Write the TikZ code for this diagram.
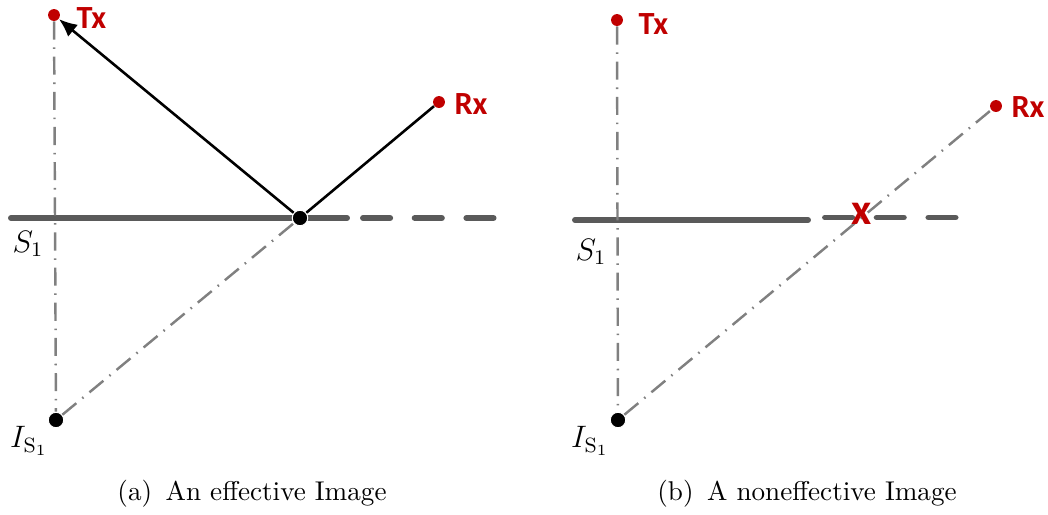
\documentclass[tikz,border=0pt]{standalone}
\usepackage{fontspec}
\newfontfamily\lblfont{Carlito}
\usetikzlibrary{arrows.meta}
\definecolor{myred}{HTML}{C00000}
\definecolor{surf}{HTML}{5A5A5A}
\begin{document}
\begin{tikzpicture}[x=0.0136cm,y=-0.0136cm,
  rdot/.style={circle,fill=myred,inner sep=0pt,minimum size=4.6pt},
  bdot/.style={circle,fill=black,draw=white,line width=0.4pt,inner sep=0pt,minimum size=6pt},
  lbl/.style={font=\lblfont\bfseries\fontsize{12.5}{12.5}\selectfont,text=myred,inner sep=0pt,anchor=west},
  mlbl/.style={inner sep=0pt,font=\fontsize{12}{14}\selectfont},
  surface/.style={draw=surf,line width=2.3pt,line cap=round},
  surfdash/.style={draw=surf,line width=2.3pt,line cap=round,dash pattern=on 10.5pt off 9.5pt},
  dashdot/.style={draw=gray,line width=0.95pt,dash pattern=on 7pt off 3pt on 0.6pt off 3pt},
  ray/.style={draw=black,line width=1pt},
  captext/.style={inner sep=0pt,font=\fontsize{10.5}{12}\selectfont}]
\useasboundingbox (0,0) rectangle (1048,514);
% ---------- (a) ----------
\node[rdot] (txa) at (54,15) {};
\node[rdot] (rxa) at (439,102) {};
\node[lbl] (txla) at (76,18) {Tx};
\node[lbl] (rxla) at (454,104) {Rx};
\coordinate (sa1) at (11,218);
\coordinate (sa2) at (347,218);
\coordinate (sa3) at (363,218);
\coordinate (sa4) at (498,218);
\draw[surface] (sa1) -- (sa2);
\draw[surfdash] (sa3) -- (sa4);
\node[bdot] (ima) at (56,420) {};
\draw[dashdot] (txa) -- (ima);
\node[bdot] (pa) at (300,218) {};
\draw[dashdot] (ima) -- (pa);
\draw[ray,-{Latex[length=7pt,width=6pt]}] (pa) -- (txa);
\draw[ray] (pa) -- (rxa);
\node[mlbl] (sla) at (28,244) {$S_1$};
\node[mlbl] (ila) at (29,441) {$I_{\mathrm{S}_1}$};
\node[captext] (capa) at (252,494) {(a)\enspace An effective Image};
% ---------- (b) ----------
\node[rdot] (txb) at (617,20) {};
\node[rdot] (rxb) at (996,106) {};
\node[lbl] (txlb) at (638,24) {Tx};
\node[lbl] (rxlb) at (1011,107) {Rx};
\coordinate (sb1) at (575,220);
\coordinate (sb2) at (808,220);
\coordinate (sb3) at (825,217.5);
\coordinate (sb4) at (957,217.5);
\draw[surface] (sb1) -- (sb2);
\draw[surfdash] (sb3) -- (sb4);
\node[bdot] (imb) at (618,420) {};
\draw[dashdot] (txb) -- (imb);
\draw[dashdot] (imb) -- (rxb);
\node[font=\lblfont\bfseries\fontsize{17}{17}\selectfont,text=myred,inner sep=0pt] (xb) at (862,214) {x};
\node[mlbl] (slb) at (591,252) {$S_1$};
\node[mlbl] (ilb) at (590,441) {$I_{\mathrm{S}_1}$};
\node[captext] (capb) at (807,494) {(b)\enspace A noneffective Image};
\end{tikzpicture}
\end{document}
